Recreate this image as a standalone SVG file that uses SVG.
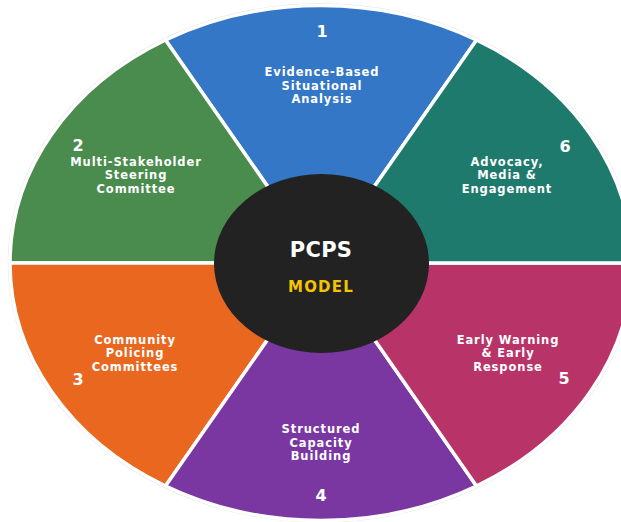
<svg xmlns="http://www.w3.org/2000/svg" width="621" height="522" viewBox="0 0 621 522">
<style>
.w{stroke:#ffffff;stroke-width:3.5;stroke-linejoin:round}
.t{font-family:"DejaVu Sans",Verdana,sans-serif;font-weight:bold;font-size:11.5px;fill:#ffffff;text-anchor:middle;letter-spacing:0.9px}
.n{font-family:"DejaVu Sans",Verdana,sans-serif;font-weight:bold;font-size:16px;fill:#ffffff;text-anchor:middle}
</style>
<rect width="621" height="522" fill="#ffffff"/>
<ellipse cx="321" cy="263" rx="312.5" ry="259" fill="none" stroke="#e6e6e6" stroke-width="1.5"/>
<g id="s1"><path class="w" fill="#3377c6" d="M321,263 L476.5,40 A311,257.5 0 0 0 165.5,40 Z"/>
<text class="n" x="322" y="37">1</text>
<text class="t" y="76.2"><tspan x="322">Evidence-Based</tspan><tspan x="322" dy="13.5">Situational</tspan><tspan x="322" dy="13.5">Analysis</tspan></text></g>
<g id="s2"><path class="w" fill="#4a8c4d" d="M321,263 L165.5,40 A311,257.5 0 0 0 10,263 Z"/>
<text class="n" x="78" y="150.5">2</text>
<text class="t" y="165.5"><tspan x="136">Multi-Stakeholder</tspan><tspan x="136" dy="13.5">Steering</tspan><tspan x="136" dy="13.5">Committee</tspan></text></g>
<g id="s3"><path class="w" fill="#e9671f" d="M321,263 L10,263 A311,257.5 0 0 0 165.5,486 Z"/>
<text class="n" x="78" y="385">3</text>
<text class="t" y="343.5"><tspan x="135">Community</tspan><tspan x="135" dy="13.5">Policing</tspan><tspan x="135" dy="13.5">Committees</tspan></text></g>
<g id="s4"><path class="w" fill="#7a37a2" d="M321,263 L165.5,486 A311,257.5 0 0 0 476.5,486 Z"/>
<text class="n" x="321" y="501">4</text>
<text class="t" y="433.2"><tspan x="321">Structured</tspan><tspan x="321" dy="13.5">Capacity</tspan><tspan x="321" dy="13.5">Building</tspan></text></g>
<g id="s5"><path class="w" fill="#b73368" d="M321,263 L476.5,486 A311,257.5 0 0 0 632,263 Z"/>
<text class="n" x="564" y="384">5</text>
<text class="t" y="343.5"><tspan x="508">Early Warning</tspan><tspan x="508" dy="13.5">&amp; Early</tspan><tspan x="508" dy="13.5">Response</tspan></text></g>
<g id="s6"><path class="w" fill="#1f7a6e" d="M321,263 L632,263 A311,257.5 0 0 0 476.5,40 Z"/>
<text class="n" x="565" y="152">6</text>
<text class="t" y="165.5"><tspan x="507">Advocacy,</tspan><tspan x="507" dy="13.5">Media &amp;</tspan><tspan x="507" dy="13.5">Engagement</tspan></text></g>
<g id="center"><ellipse cx="321.5" cy="263.5" rx="107.5" ry="89.5" fill="#222222"/>
<text x="321" y="257" font-family="DejaVu Sans,Verdana,sans-serif" font-weight="bold" font-size="21" fill="#ffffff" text-anchor="middle" letter-spacing="0.3">PCPS</text>
<text x="321" y="292" font-family="DejaVu Sans,Verdana,sans-serif" font-weight="bold" font-size="15" fill="#f4c400" text-anchor="middle" letter-spacing="1.2">MODEL</text></g>
</svg>
